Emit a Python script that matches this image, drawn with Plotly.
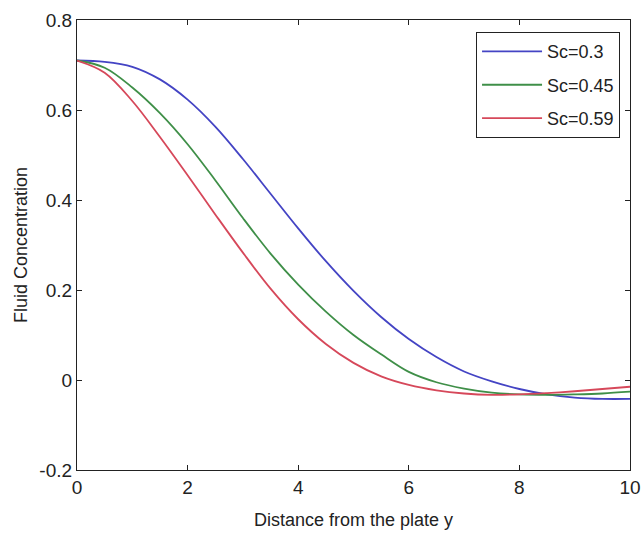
import plotly.graph_objects as go

x_vals = [0, 0.5, 1, 1.5, 2, 2.5, 3, 3.5, 4, 4.5, 5, 5.5, 6, 6.5, 7, 7.5, 8, 8.5, 9, 9.5, 10]

sc_030 = [0.710, 0.707, 0.696, 0.668, 0.623, 0.563, 0.491, 0.414, 0.337, 0.264, 0.198, 0.140, 0.091,
          0.051, 0.019, -0.003, -0.020, -0.032, -0.039, -0.042, -0.042]
sc_045 = [0.710, 0.694, 0.650, 0.593, 0.524, 0.444, 0.360, 0.281, 0.212, 0.152, 0.100, 0.057, 0.018,
          -0.005, -0.019, -0.028, -0.032, -0.033, -0.032, -0.030, -0.026]
sc_059 = [0.710, 0.683, 0.620, 0.540, 0.455, 0.368, 0.283, 0.203, 0.135, 0.080, 0.038, 0.008, -0.011,
          -0.023, -0.030, -0.033, -0.032, -0.029, -0.025, -0.020, -0.015]

series_names = ["Sc=0.3", "Sc=0.45", "Sc=0.59"]
series_colors = ["#4444c4", "#3f8f48", "#d6485a"]

x_ticks = [0, 2, 4, 6, 8, 10]
x_tick_labels = ["0", "2", "4", "6", "8", "10"]
y_ticks = [-0.2, 0, 0.2, 0.4, 0.6, 0.8]
y_tick_labels = ["-0.2", "0", "0.2", "0.4", "0.6", "0.8"]

font_family = "Liberation Sans, Arial, sans-serif"

fig = go.Figure()
for name, ys, col in zip(series_names, [sc_030, sc_045, sc_059], series_colors):
    fig.add_trace(go.Scatter(
        x=x_vals, y=ys, mode="lines", name=name, legendgroup=name,
        line=dict(color=col, width=1.8, shape="spline", smoothing=1.0),
    ))

axis_common = dict(
    showline=True, linecolor="#222222", linewidth=1.2, mirror="ticks",
    ticks="inside", ticklen=5, tickcolor="#222222", tickwidth=1,
    showgrid=False, zeroline=False, automargin=False, ticklabeloverflow="allow",
    tickfont=dict(family=font_family, size=19, color="#222222"),
)

fig.update_layout(
    width=641, height=535,
    margin=dict(l=77, r=11, t=20, b=65),
    paper_bgcolor="white", plot_bgcolor="white",
    font=dict(family=font_family, color="#222222"),
    xaxis=dict(range=[0, 10], tickvals=x_ticks, ticktext=x_tick_labels,
               title=dict(text="Distance from the plate y", font=dict(size=18, family=font_family), standoff=16),
               **axis_common),
    yaxis=dict(range=[-0.2, 0.8], tickvals=y_ticks, ticktext=y_tick_labels,
               title=dict(text="Fluid Concentration", font=dict(size=18, family=font_family), standoff=7),
               **axis_common),
    showlegend=True,
    legend=dict(
        x=0.982, y=0.973, xanchor="right", yanchor="top",
        bgcolor="white", bordercolor="#222222", borderwidth=1,
        font=dict(family=font_family, size=18, color="#222222"),
        itemwidth=60, tracegroupgap=7, traceorder="grouped",
    ),
)

fig.write_html(
    "out.html",
    config={"displayModeBar": False},
    post_script="document.body.style.margin='0';document.body.style.overflow='hidden';",
)
